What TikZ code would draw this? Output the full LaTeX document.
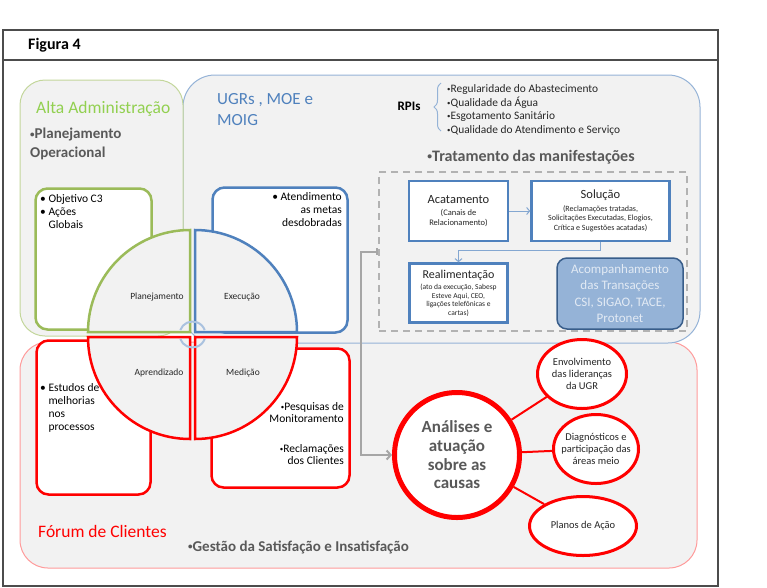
\documentclass[tikz,border=0pt]{standalone}
\usepackage{fontspec}
\setmainfont{Carlito}
\usepackage{graphicx}
\usepackage{tikz}
\usetikzlibrary{arrows.meta,positioning,shapes.geometric,decorations.pathreplacing}

\definecolor{greenline}{HTML}{9BBB59}
\definecolor{greenpale}{HTML}{C3D69B}
\definecolor{greentext}{HTML}{92D050}
\definecolor{blueline}{HTML}{4F81BD}
\definecolor{bluepale}{HTML}{95B3D7}
\definecolor{bluedark}{HTML}{385D8A}
\definecolor{acomptext}{HTML}{E2EAF4}
\definecolor{redpale}{HTML}{FF9B9B}
\definecolor{panel}{HTML}{F2F2F2}
\definecolor{graytext}{HTML}{595959}
\definecolor{darktext}{HTML}{262626}
\newcommand{\sbul}{\raisebox{0.2ex}{\scalebox{0.6}{•}}}

\begin{document}
\begin{tikzpicture}[x=1pt,y=-1pt,>={Straight Barb[length=3pt,width=7pt]},
    area/.style={draw,fill=panel,rounded corners=28pt,line width=1pt},
    small box/.style={draw,fill=white,rounded corners=12pt,line width=2.5pt},
    quad/.style={fill=panel,line width=2.5pt},
    quad label/.style={font=\fontsize{9.5}{11}\selectfont,text=darktext},
    box text/.style={align=left,inner sep=0pt,font=\fontsize{11.5}{13}\selectfont,text=black},
    plain text/.style={inner sep=0pt,align=left},
    treat box/.style={draw=blueline,fill=white,line width=2.5pt,align=center,inner sep=1pt,text=darktext},
    red ellipse/.style={ellipse,draw=red,fill=white,line width=3pt},
    ellipse text/.style={align=center,text=darktext,font=\fontsize{10.5}{11.7}\selectfont}]

  \useasboundingbox (0,0) rectangle (767,587);
  \draw[line width=1.2pt,draw=black!70] (3,30) rectangle (718,586);
  \draw[line width=1.2pt,draw=black!70] (3,60) -- (718,60);
  \node[plain text,anchor=west,font=\bfseries\fontsize{16}{18}\selectfont] (fig) at (28,45) {Figura 4};

  \draw[area,draw=redpale] (20,342) rectangle (697,568);
  \draw[area,draw=bluepale,rounded corners=32pt] (183,75) rectangle (700,343);
  \draw[area,draw=greenpale,rounded corners=25pt] (20,80) rectangle (183,336);

  \node[plain text,anchor=base west,text=greentext,font=\fontsize{17.5}{20}\selectfont] (alta) at (36,113) {Alta Administração};
  \node[plain text,anchor=north west,text=graytext,font=\bfseries\fontsize{15}{19}\selectfont] (plano) at (30,128) {\sbul Planejamento\\Operacional};
  \node[plain text,anchor=north west,text=blueline,font=\fontsize{17}{21.5}\selectfont] (ugr) at (217,93) {UGRs , MOE e\\MOIG};
  \node[plain text,font=\bfseries\fontsize{13}{15}\selectfont] (rpi) at (409,106) {RPIs};
  \node[plain text,anchor=west,text=darktext,font=\fontsize{11.4}{13.6}\selectfont] (rpilist) at (447,110) {\sbul Regularidade do Abastecimento\\\sbul Qualidade da Água\\\sbul Esgotamento Sanitário\\\sbul Qualidade do Atendimento e Serviço};
  \draw[bluepale,line width=1pt,decorate,decoration={brace,amplitude=7pt}] (441,131) -- (441,83);
  \node[plain text,text=graytext,font=\bfseries\fontsize{16}{18}\selectfont] (trattxt) at (531,157) {\sbul Tratamento das manifestações};

  \node[small box,draw=greenline,minimum width=116pt,minimum height=141pt] (objbox) at (93.5,259) {};
  \node[small box,draw=blueline,minimum width=135pt,minimum height=145pt] (atendbox) at (280,260) {};
  \node[small box,draw=red,minimum width=114pt,minimum height=154pt] (estbox) at (93.5,417.5) {};
  \node[small box,draw=red,minimum width=138pt,minimum height=139pt] (pesqbox) at (280.5,418) {};
  \node[box text,anchor=north west] (objtxt) at (40,194) {•\ Objetivo C3\\•\ Ações\\\hphantom{•\ }Globais};
  \node[box text,align=right,anchor=north east] (atendtxt) at (342,192) {•\ Atendimento\\as metas\\desdobradas};
  \node[box text,anchor=north west] (esttxt) at (40,383) {•\ Estudos de\\\hphantom{•\ }melhorias\\\hphantom{•\ }nos\\\hphantom{•\ }processos};
  \node[box text,align=right,anchor=north east,font=\fontsize{11.5}{12.5}\selectfont] (pesqtxt) at (344,402) {\sbul Pesquisas de\\Monitoramento\\[17pt]\sbul Reclamações\\dos Clientes};

  \filldraw[quad,draw=greenline] (190,332) -- (88,332) arc[start angle=180,end angle=270,radius=102] -- cycle;
  \filldraw[quad,draw=blueline] (195,332) -- (195,230) arc[start angle=270,end angle=360,radius=102] -- cycle;
  \filldraw[quad,draw=red] (190,337) -- (88,337) arc[start angle=180,end angle=90,radius=102] -- cycle;
  \filldraw[quad,draw=red] (195,337) -- (297,337) arc[start angle=0,end angle=90,radius=102] -- cycle;
  \node[quad label] (planq) at (157,297) {Planejamento};
  \node[quad label] (execq) at (242,297) {Execução};
  \node[quad label] (aprq) at (159,373) {Aprendizado};
  \node[quad label] (medq) at (243,373) {Medição};
  \coordinate (hub) at (192.5,334.5);
  \draw[bluepale!80,line width=2pt] ([shift={(-160:13)}]hub) arc[start angle=-160,end angle=-20,radius=13];
  \draw[bluepale!80,line width=2pt] ([shift={(160:13)}]hub) arc[start angle=160,end angle=20,radius=13];

  \node[draw=black!30,dash pattern=on 7pt off 5pt,line width=1.5pt,minimum width=308pt,minimum height=159pt] (trat) at (533,251.5) {};
  \node[treat box,minimum width=99pt,minimum height=60pt,font=\fontsize{8.5}{9.5}\selectfont] (acat) at (458.5,211) {{\fontsize{12.5}{14}\selectfont Acatamento}\\[3pt](Canais de\\Relacionamento)};
  \node[treat box,minimum width=138pt,minimum height=60pt,font=\fontsize{8}{9.5}\selectfont,right=21pt of acat] (sol) {{\fontsize{12.5}{14}\selectfont Solução}\\[3pt](Reclamações tratadas,\\Solicitações Executadas, Elogios,\\Crítica e Sugestões acatadas)};
  \node[treat box,minimum width=98pt,minimum height=59pt,font=\fontsize{7.5}{8.5}\selectfont,below=20pt of acat] (realim) {{\fontsize{12}{14}\selectfont Realimentação}\\[3pt](ato da execução, Sabesp\\Esteve Aqui, CEO,\\ligações telefônicas e\\cartas)};
  \node[draw=bluedark,fill=bluepale,line width=1.5pt,rounded corners=10pt,minimum width=126pt,minimum height=71pt,align=center,text=acomptext,font=\fontsize{13}{16.5}\selectfont] (acomp) at (620,293.5) {Acompanhamento\\das Transações\\CSI, SIGAO, TACE,\\Protonet};
  \draw[->,blueline!70,line width=1pt] (acat) -- (sol);
  \draw[->,blueline!70,line width=1pt] (sol.south) -- ++(0,8) -| (realim.north);

  \node[circle,draw=red,fill=white,line width=5pt,minimum size=125pt,align=center,text=graytext,font=\bfseries\fontsize{17}{18.7}\selectfont] (analise) at (457,455) {Análises e\\atuação\\sobre as\\causas};
  \draw[{Bar[width=7pt]}-{Straight Barb[length=4pt,width=9pt]},draw=black!35,line width=2pt] (trat.west) -- ++(-17,0) |- (analise);
  \node[red ellipse,minimum width=89pt,minimum height=69pt,label={[ellipse text]center:Envolvimento\\das lideranças\\da UGR}] (envolv) at (582,374) {};
  \node[red ellipse,minimum width=85pt,minimum height=69pt,label={[ellipse text]center:Diagnósticos e\\participação das\\áreas meio}] (diag) at (596,449) {};
  \node[red ellipse,minimum width=107pt,minimum height=59pt,label={[ellipse text]center:Planos de Ação}] (planos) at (583,526) {};
  \draw[red,line width=2pt] (analise) -- (envolv);
  \draw[red,line width=2pt] (analise) -- (diag);
  \draw[red,line width=2pt] (analise) -- (planos);

  \node[plain text,anchor=base west,text=red,font=\fontsize{17.5}{20}\selectfont] (forum) at (38,537) {Fórum de Clientes};
  \node[plain text,anchor=base west,text=graytext,font=\bfseries\fontsize{15}{17}\selectfont] (gestao) at (188,551) {\sbul Gestão da Satisfação e Insatisfação};
\end{tikzpicture}
\end{document}
